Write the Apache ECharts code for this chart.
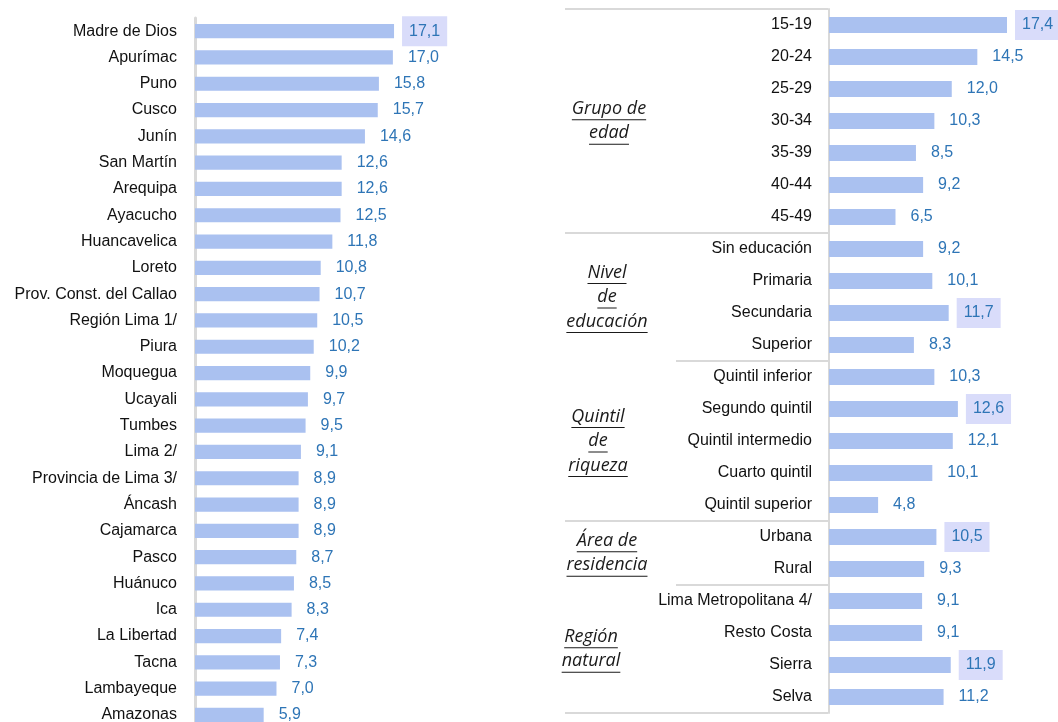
<!DOCTYPE html>
<html>
<head>
<meta charset="utf-8">
<script src="https://cdn.jsdelivr.net/npm/echarts@6/dist/echarts.min.js"></script>
<style>
  html, body { margin: 0; padding: 0; background: #fff; }
  #main { width: 1058px; height: 722px; }
</style>
</head>
<body>
<div id="main"></div>
<script>
// departamentos (panel izquierdo)
const regiones = ['Madre de Dios', 'Apurímac', 'Puno', 'Cusco', 'Junín', 'San Martín', 'Arequipa',
  'Ayacucho', 'Huancavelica', 'Loreto', 'Prov. Const. del Callao', 'Región Lima 1/', 'Piura',
  'Moquegua', 'Ucayali', 'Tumbes', 'Lima 2/', 'Provincia de Lima 3/', 'Áncash', 'Cajamarca',
  'Pasco', 'Huánuco', 'Ica', 'La Libertad', 'Tacna', 'Lambayeque', 'Amazonas'];
const valoresRegion = [17.1, 17.0, 15.8, 15.7, 14.6, 12.6, 12.6, 12.5, 11.8, 10.8, 10.7, 10.5, 10.2,
  9.9, 9.7, 9.5, 9.1, 8.9, 8.9, 8.9, 8.7, 8.5, 8.3, 7.4, 7.3, 7.0, 5.9];

// características (panel derecho)
const categorias = ['15-19', '20-24', '25-29', '30-34', '35-39', '40-44', '45-49',
  'Sin educación', 'Primaria', 'Secundaria', 'Superior',
  'Quintil inferior', 'Segundo quintil', 'Quintil intermedio', 'Cuarto quintil', 'Quintil superior',
  'Urbana', 'Rural',
  'Lima Metropolitana 4/', 'Resto Costa', 'Sierra', 'Selva'];
const valoresCategoria = [17.4, 14.5, 12.0, 10.3, 8.5, 9.2, 6.5,
  9.2, 10.1, 11.7, 8.3,
  10.3, 12.6, 12.1, 10.1, 4.8,
  10.5, 9.3,
  9.1, 9.1, 11.9, 11.2];

const grupoNombres = [['Grupo de', 'edad'], ['Nivel', 'de', 'educación'], ['Quintil', 'de', 'riqueza'],
  ['Área de', 'residencia'], ['Región', 'natural']];
const grupoTamanos = [7, 4, 5, 2, 4];

// valores resaltados
const destacados = ['Madre de Dios', '15-19', 'Secundaria', 'Segundo quintil', 'Urbana', 'Sierra'];

const barColor = '#aac1f0';
const valColor = '#2e75b6';
const fmt = v => v.toFixed(1).replace('.', ',');

function barData(names, values) {
  return values.map((v, i) => {
    const hi = destacados.indexOf(names[i]) >= 0;
    return {
      value: v,
      label: hi
        ? { backgroundColor: '#d9dcfa', padding: [7, 7, 7, 7], distance: 8 }
        : { distance: 15 }
    };
  });
}

const chart = echarts.init(document.getElementById('main'));

const labelFont = { fontFamily: 'Liberation Sans', fontSize: 16, color: '#111' };

const option = {
  animation: false,
  grid: [
    { left: 195, top: 18, width: 232.8, height: 710.1, outerBoundsMode: 'none' },
    { left: 829, top: 9, width: 204.6, height: 704, outerBoundsMode: 'none' }
  ],
  xAxis: [
    { type: 'value', gridIndex: 0, min: 0, max: 20, show: false },
    { type: 'value', gridIndex: 1, min: 0, max: 20, show: false }
  ],
  yAxis: [
    {
      type: 'category', gridIndex: 0, inverse: true, data: regiones,
      axisLine: { lineStyle: { color: '#d9d9d9', width: 3 } },
      axisTick: { show: false },
      axisLabel: Object.assign({ margin: 18 }, labelFont)
    },
    {
      type: 'category', gridIndex: 1, inverse: true, data: categorias,
      axisLine: { lineStyle: { color: '#d9d9d9', width: 2 } },
      axisTick: { show: false },
      axisLabel: Object.assign({ margin: 17 }, labelFont)
    }
  ],
  series: [
    {
      type: 'bar', xAxisIndex: 0, yAxisIndex: 0,
      barCategoryGap: '46%',
      itemStyle: { color: barColor },
      label: {
        show: true, position: 'right', color: valColor,
        fontFamily: 'Liberation Sans', fontSize: 16,
        formatter: p => fmt(p.value)
      },
      data: barData(regiones, valoresRegion)
    },
    {
      type: 'bar', xAxisIndex: 1, yAxisIndex: 1,
      barCategoryGap: '50%',
      itemStyle: { color: barColor },
      label: {
        show: true, position: 'right', color: valColor,
        fontFamily: 'Liberation Sans', fontSize: 16,
        formatter: p => fmt(p.value)
      },
      data: barData(categorias, valoresCategoria)
    }
  ]
};

chart.setOption(option);

// separadores y títulos de grupo en el panel derecho
const ctx = document.createElement('canvas').getContext('2d');
const grupoFont = 'italic 18px "Open Sans"';
ctx.font = grupoFont;

const yOf = i => chart.convertToPixel({ yAxisIndex: 1 }, categorias[i]);
const paso = yOf(1) - yOf(0);
const grupoX = [609, 607, 598, 607, 591];
const corto = [false, true, false, true];
const graphic = [];

const sepLine = (y, x1) => graphic.push({
  type: 'line', shape: { x1: x1, y1: y, x2: 828, y2: y },
  style: { stroke: '#d9d9d9', lineWidth: 2 }
});

let inicio = 0;
sepLine(yOf(0) - paso / 2, 565);
grupoTamanos.forEach((n, g) => {
  const fin = inicio + n - 1;
  const yc = (yOf(inicio) + yOf(fin)) / 2;
  const lines = grupoNombres[g];
  const lh = 24.5;
  lines.forEach((t, k) => {
    const y = yc + (k - (lines.length - 1) / 2) * lh;
    const w = ctx.measureText(t).width;
    graphic.push({
      type: 'text', x: grupoX[g], y: y,
      style: {
        text: t, font: grupoFont, fill: '#1a1a1a',
        textAlign: 'center', textVerticalAlign: 'middle'
      }
    });
    graphic.push({
      type: 'line',
      shape: { x1: grupoX[g] - w / 2, y1: y + 11, x2: grupoX[g] + w / 2, y2: y + 11 },
      style: { stroke: '#1a1a1a', lineWidth: 1 }
    });
  });
  const yb = yOf(fin) + paso / 2;
  sepLine(yb, g < corto.length && corto[g] ? 676 : 565);
  inicio += n;
});

chart.setOption({ graphic: graphic });

window.addEventListener('resize', function () {
  chart.resize();
});
</script>
</body>
</html>
